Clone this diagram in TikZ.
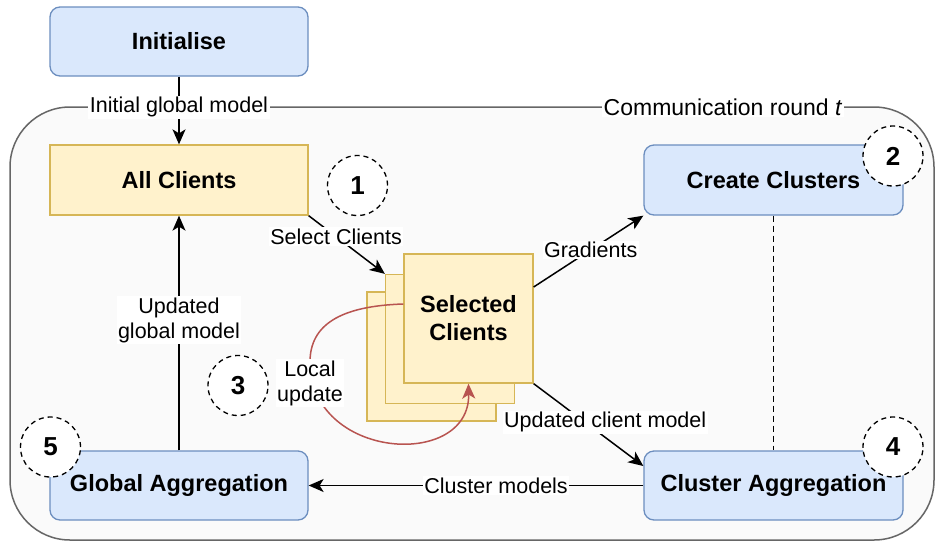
\documentclass[tikz,border=0pt]{standalone}
\usepackage{fontspec}
\setmainfont{Liberation Sans}
\usetikzlibrary{arrows.meta}
\definecolor{bluefill}{HTML}{DAE8FC}
\definecolor{bluestroke}{HTML}{6C8EBF}
\definecolor{yfill}{HTML}{FFF2CC}
\definecolor{ystroke}{HTML}{D6B656}
\definecolor{redline}{HTML}{B85450}
\definecolor{contstroke}{HTML}{666666}
\definecolor{contfill}{HTML}{FAFAFA}
\newcommand\lblfont{\fontsize{21.5}{25}\selectfont}
\newcommand\boxfont{\fontsize{23.5}{28}\selectfont\bfseries}
\newcommand\numfont{\fontsize{26}{28}\selectfont\bfseries}
\tikzset{
  bluebox/.style={draw=bluestroke, fill=bluefill, rounded corners=10pt, line width=1.3pt,
    minimum width=258pt, minimum height=69pt, inner sep=0pt, font=\boxfont, align=center},
  yellowbox/.style={draw=ystroke, fill=yfill, line width=1.3pt,
    minimum width=258pt, minimum height=70pt, inner sep=0pt, font=\boxfont, align=center},
  stackbox/.style={draw=ystroke, fill=yfill, line width=1.3pt,
    minimum width=129pt, minimum height=129pt, inner sep=0pt, font=\boxfont, align=center},
  numcircle/.style={circle, draw=black, fill=white, dash pattern=on 5pt off 4pt, line width=1.3pt,
    minimum size=60pt, inner sep=0pt, font=\numfont},
  flow/.style={line width=1.5pt, draw=black, -{Stealth[length=15pt,width=13pt,inset=4pt]}},
  lbl/.style={fill=white, inner sep=1.5pt, font=\lblfont, align=center, text=black},
}
\begin{document}
\begin{tikzpicture}[x=1pt,y=-1pt]
\useasboundingbox (0,0) rectangle (935,542);
% container
\node[draw=contstroke, fill=contfill, line width=1.5pt, rounded corners=60pt,
  minimum width=924pt, minimum height=433pt, inner sep=0pt] (round) at (472,323.5) {};
\node[lbl, font=\fontsize{23}{26}\selectfont] (roundlbl) at (723,107) {Communication round \textit{t}};

% boxes
\node[bluebox] (init) at (179,41.5) {Initialise};
\node[yellowbox] (all) at (179,180) {All Clients};
\node[bluebox, minimum width=259pt, minimum height=70pt] (cc) at (773.5,180) {Create Clusters};
\node[bluebox, minimum width=259pt] (ca) at (773.5,485.5) {Cluster Aggregation};
\node[bluebox] (ga) at (179,485.5) {Global Aggregation};

% selected clients stack
\node[stackbox] (back) at (431.5,356.5) {};
\node[stackbox] (mid) at (450,339) {};
\node[stackbox] (front) at (468.5,318.5) {Selected\\Clients};

% connectors
\draw[flow] (init.south) -- node[lbl, pos=0.45] {Initial global model} (all.north);
\draw[flow] (all.south east) -- node[lbl, pos=0.36] {Select Clients} (mid.north west);
\draw[flow] ([yshift=31.5pt]front.east) -- node[lbl, pos=0.52] {Gradients} (cc.south west);
\draw[flow] (front.south east) -- node[lbl, pos=0.47, xshift=20pt] {Updated client model} ([yshift=19.5pt]ca.west);
\draw[flow] (ca.west) -- node[lbl, pos=0.44] {Cluster models} (ga.east);
\draw[flow] (ga.north) -- node[lbl, pos=0.555] {Updated\\global model} (all.south);
\draw[line width=1.3pt, dash pattern=on 6pt off 4pt] (cc.south) -- (ca.north);

% local update loop
\draw[line width=1.5pt, draw=redline, -{Stealth[length=15pt,width=13pt,inset=4pt]}]
  ([yshift=14.5pt]front.west) .. controls (340,306) and (310,325) .. (310,362)
  .. controls (310,460) and (470,470) .. (front.south);
\node[lbl] (locallbl) at (310,383) {Local\\update};

% step circles
\node[numcircle] (n1) at (357.5,185.5) {1};
\node[numcircle] (n2) at (893,156) {2};
\node[numcircle] (n3) at (238,385.5) {3};
\node[numcircle] (n4) at (893,447) {4};
\node[numcircle] (n5) at (50.5,447) {5};
\end{tikzpicture}
\end{document}
